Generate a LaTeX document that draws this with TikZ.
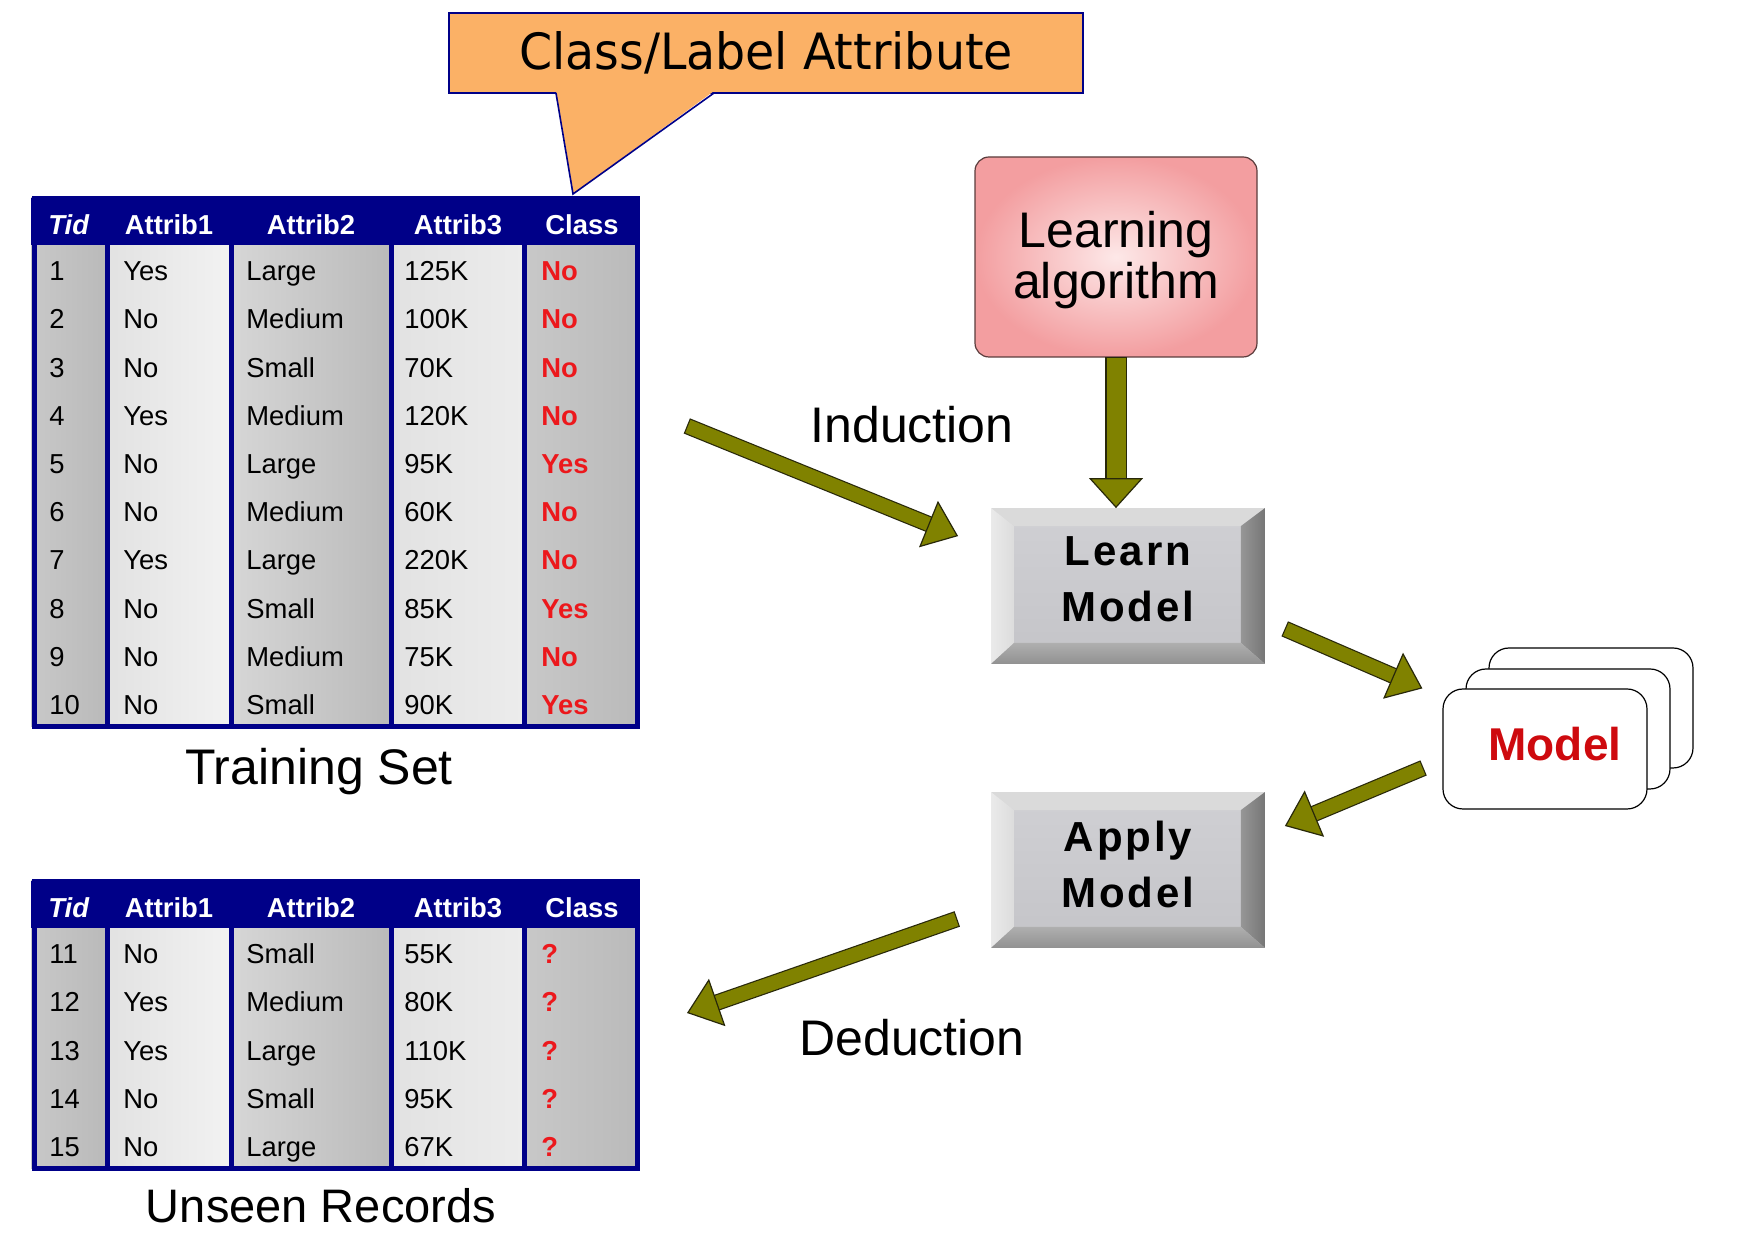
\documentclass[tikz,border=0pt]{standalone}
\usepackage{fontspec}
\setmainfont{Liberation Sans}
\newfontfamily\calfont[FakeStretch=0.95]{DejaVu Sans}
\newfontfamily\btnfont[LetterSpace=7]{Liberation Sans}
\usetikzlibrary{arrows.meta}
\definecolor{navyb}{RGB}{0,0,136}\definecolor{calorange}{RGB}{251,177,102}
\definecolor{pinkedge}{RGB}{243,158,160}\definecolor{pinkmid}{RGB}{253,232,232}\definecolor{algoedge}{RGB}{90,60,60}
\definecolor{olivearr}{RGB}{128,130,0}\definecolor{arredge}{RGB}{40,40,10}
\definecolor{redtxt}{RGB}{236,24,28}\definecolor{redmodel}{RGB}{206,10,14}
\definecolor{gA}{RGB}{200,200,200}\definecolor{gB}{RGB}{186,186,186}\definecolor{gC}{RGB}{214,214,214}
\definecolor{lA}{RGB}{226,226,226}\definecolor{lB}{RGB}{242,242,242}\definecolor{lC}{RGB}{236,236,236}
\definecolor{btnfaceA}{RGB}{208,208,212}\definecolor{btnfaceB}{RGB}{196,196,200}
\definecolor{btntop}{RGB}{218,218,218}\definecolor{btnleftA}{RGB}{234,234,234}\definecolor{btnleftB}{RGB}{220,220,220}
\definecolor{btnrightA}{RGB}{150,150,150}\definecolor{btnrightB}{RGB}{118,118,118}
\definecolor{btnbotA}{RGB}{175,175,175}\definecolor{btnbotB}{RGB}{145,145,145}
\tikzset{cell/.style={anchor=west,inner sep=0pt,text height=9.8pt,text depth=0pt,font=\fontsize{13.7}{16}\selectfont},
cls/.style={cell,text=redtxt,font=\fontsize{13.7}{16}\selectfont\bfseries},
hd/.style={inner sep=0pt,text height=9.8pt,text depth=0pt,text=white,font=\fontsize{13.7}{16}\selectfont\bfseries},
lbl/.style={inner sep=0pt,align=center,font=\fontsize{25}{25.5}\selectfont},
algo/.style={draw=algoedge,line width=0.6pt,rounded corners=7pt,inner color=pinkmid,outer color=pinkedge,minimum width=141pt,minimum height=100pt},
btn/.style={top color=btnfaceA,bottom color=btnfaceB,minimum width=136.5pt,minimum height=77.5pt,inner sep=0pt},
btntxt/.style={inner sep=0pt,align=center,font=\btnfont\fontsize{21}{28}\selectfont\bfseries},
card/.style={draw,fill=white,line width=0.6pt,rounded corners=10pt,minimum width=102pt,minimum height=60pt},
fat/.style={draw=arredge,double=olivearr,double distance=7pt,line width=0.6pt,line cap=rect,shorten <=4pt,-{Triangle[width=25pt,length=16pt,line width=0.6pt,fill=olivearr]}},
fatv/.style={fat,double distance=9.5pt,shorten <=5pt,-{Triangle[width=27pt,length=15pt,line width=0.6pt,fill=olivearr]}}}
\newcommand\bevel[1]{%
\fill[btntop](#1.north west)--(#1.north east)--([shift={(-12pt,-9pt)}]#1.north east)--([shift={(11.5pt,-9pt)}]#1.north west)--cycle;
\shade[left color=btnleftA,right color=btnleftB](#1.north west)--([shift={(11.5pt,-9pt)}]#1.north west)--([shift={(11.5pt,10.5pt)}]#1.south west)--(#1.south west)--cycle;
\shade[left color=btnrightA,right color=btnrightB](#1.north east)--(#1.south east)--([shift={(-12pt,10.5pt)}]#1.south east)--([shift={(-12pt,-9pt)}]#1.north east)--cycle;
\shade[top color=btnbotA,bottom color=btnbotB](#1.south west)--([shift={(11.5pt,10.5pt)}]#1.south west)--([shift={(-12pt,10.5pt)}]#1.south east)--(#1.south east)--cycle;}

\begin{document}
\begin{tikzpicture}[x=0.5pt,y=-0.5pt]
\useasboundingbox(0,0)rectangle(1737,1234);
% the two tables
\foreach\tp/\n[count=\j]in{198/10,881/5}{
 \pgfmathsetmacro\bt{\tp+47+48.2*\n}
 \foreach\l/\r/\ca/\cb in{31/106/gA/gB,106/232/lA/lB,232/391/gC/gB,391/524/lA/lC,524/639/gA/gB}\shade[left color=\ca,right color=\cb](\l,\tp)rectangle(\r,\bt);
 \fill[navyb](31,\tp)rectangle(639,\tp+47);
 \foreach\x in{107,231,391,524}\draw[navyb,line width=2.5pt](\x,\tp+47)--(\x,\bt);
 \draw[navyb,line width=2.5pt](34,\tp+1)rectangle(637,\bt);
 \node[hd](tid\j)at(69,\tp+27){\textit{Tid}};\node[hd](att\j a)at(169,\tp+27){Attrib1};
 \node[hd](att\j b)at(311,\tp+27){Attrib2};\node[hd](att\j c)at(458,\tp+27){Attrib3};\node[hd](cls\j)at(582,\tp+27){Class};}
\foreach\id/\p/\q/\r/\k in{1/Yes/Large/125K/No,2/No/Medium/100K/No,3/No/Small/70K/No,4/Yes/Medium/120K/No,5/No/Large/95K/Yes,
 6/No/Medium/60K/No,7/Yes/Large/220K/No,8/No/Small/85K/Yes,9/No/Medium/75K/No,10/No/Small/90K/Yes,
 11/No/Small/55K/?,12/Yes/Medium/80K/?,13/Yes/Large/110K/?,14/No/Small/95K/?,15/No/Large/67K/?}{
 \pgfmathsetmacro\y{\id<11?271+48.2*(\id-1):954+48.2*(\id-11)}
 \node[cell](n\id)at(49,\y){\id};\node[cell](p\id)at(123,\y){\p};\node[cell](q\id)at(246,\y){\q};
 \node[cell](r\id)at(404,\y){\r};\node[cls](k\id)at(541,\y){\k};}
\node[lbl](train)at(319,772){Training Set};\node[lbl,font=\fontsize{23.5}{24}\selectfont](unseen)at(321,1206){Unseen Records};
% callout
\node[fill=calorange,draw=navyb,line width=0.8pt,minimum width=317pt,minimum height=40pt,font=\calfont\fontsize{25}{26}\selectfont](callout)at(766,53){Class/Label Attribute};
\fill[calorange](556,91)--(573,194)--(714,91)--cycle;\draw[navyb,line width=0.8pt](556,93)--(573,194)--(714,93);
% process
\node[algo](algo)at(1116,257){};\node[lbl](algotxt)at(1116,260){Learning\\algorithm};
\node[btn](learn)at(1128,586){};\node[btn](apply)at(1128,870){};
\bevel{learn}\bevel{apply}
\node[btntxt](learntxt)at(1128,579){Learn\\Model};\node[btntxt](applytxt)at(1128,864){Apply\\Model};
\node[card](card3)at(1591,708){};\node[card](card2)at(1568,729){};\node[card](model)at(1545,749){};
\node[text=redmodel,inner sep=0pt,font=\fontsize{23}{24}\selectfont\bfseries](modeltxt)at(1555,744){Model};
\node[lbl](ind)at(912,425){Induction};\node[lbl](ded)at(912,1038){Deduction};
\coordinate(indA)at(687,426);\coordinate(dedB)at(687,1013);
\draw[fatv](algo.south)--(algo.south|-learn.north);
\draw[fat](indA)--([shift={(-16.5pt,-14pt)}]learn.north west);
\draw[fat]([shift={(10pt,17.5pt)}]learn.south east)--([shift={(-10pt,0pt)}]model.north west);
\draw[fat]([shift={(-9.5pt,-9.5pt)}]model.west)--([shift={(10pt,22pt)}]apply.east);
\draw[fat]([shift={(-17pt,-24.5pt)}]apply.west)--(dedB);
\end{tikzpicture}
\end{document}
